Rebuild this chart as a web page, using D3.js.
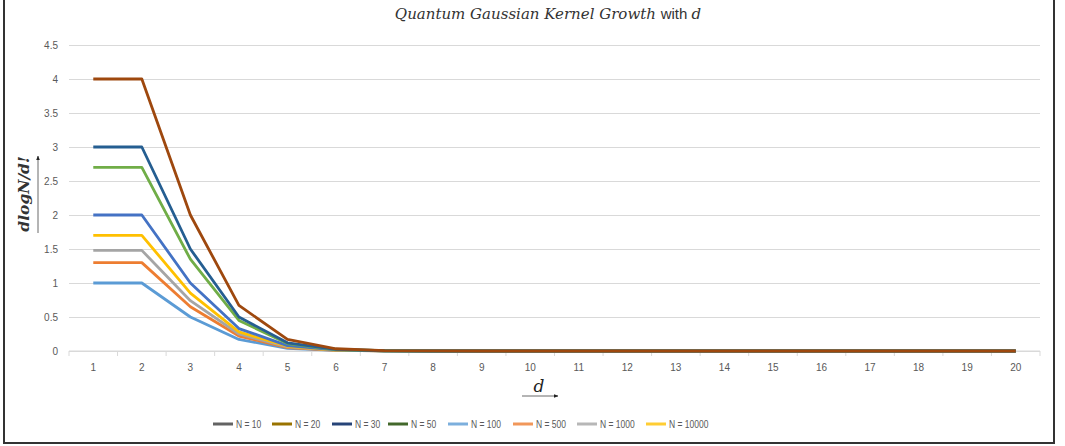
<!DOCTYPE html>
<html>
<head>
<meta charset="utf-8">
<script src="https://cdn.jsdelivr.net/npm/d3@7"></script>
<style>
  body { margin: 0; background: #fff; }
  svg { display: block; }
  .tick text { font-family: "Liberation Sans Narrow", "Arial Narrow", "Liberation Sans", sans-serif; font-size: 10px; fill: #595959; }
  .legend text { font-family: "Liberation Sans Narrow", "Arial Narrow", "Liberation Sans", sans-serif; font-size: 10px; fill: #595959; }
</style>
</head>
<body>
<svg width="1065" height="446"></svg>
<script>
      const dValues = [1, 2, 3, 4, 5, 6, 7, 8, 9, 10, 11, 12, 13, 14, 15, 16, 17, 18, 19, 20];
      const yTicks = [0, 0.5, 1, 1.5, 2, 2.5, 3, 3.5, 4, 4.5];
      const seriesNames = ['N = 10', 'N = 20', 'N = 30', 'N = 50', 'N = 100', 'N = 500', 'N = 1000', 'N = 10000'];

      const n10    = [1, 1, 0.5, 0.17, 0.04, 0.008, 0.001, 0, 0, 0, 0, 0, 0, 0, 0, 0, 0, 0, 0, 0];
      const n20    = [1.3, 1.3, 0.65, 0.22, 0.05, 0.011, 0.002, 0, 0, 0, 0, 0, 0, 0, 0, 0, 0, 0, 0, 0];
      const n30    = [1.48, 1.48, 0.74, 0.25, 0.06, 0.012, 0.002, 0, 0, 0, 0, 0, 0, 0, 0, 0, 0, 0, 0, 0];
      const n50    = [1.7, 1.7, 0.85, 0.28, 0.07, 0.014, 0.002, 0, 0, 0, 0, 0, 0, 0, 0, 0, 0, 0, 0, 0];
      const n100   = [2, 2, 1, 0.33, 0.08, 0.017, 0.003, 0, 0, 0, 0, 0, 0, 0, 0, 0, 0, 0, 0, 0];
      const n500   = [2.7, 2.7, 1.35, 0.45, 0.11, 0.022, 0.004, 0, 0, 0, 0, 0, 0, 0, 0, 0, 0, 0, 0, 0];
      const n1000  = [3, 3, 1.5, 0.5, 0.12, 0.025, 0.004, 0, 0, 0, 0, 0, 0, 0, 0, 0, 0, 0, 0, 0];
      const n10000 = [4, 4, 2, 0.67, 0.17, 0.033, 0.006, 0.001, 0, 0, 0, 0, 0, 0, 0, 0, 0, 0, 0, 0];
      const seriesValues = [n10, n20, n30, n50, n100, n500, n1000, n10000];

      // the line colours and the legend swatches don't agree in the original, keep both
      const lineColors = ['#5b9bd5', '#ed7d31', '#a5a5a5', '#ffc000', '#4472c4', '#70ad47', '#255e91', '#9e480e'];
      const legendColors = ['#636363', '#997300', '#264478', '#43682b', '#7cafdd', '#f1975a', '#b7b7b7', '#ffcd33'];

      const svg = d3.select('svg');

      // outer frame (left, right, bottom)
      svg.append('path')
        .attr('d', 'M4,0 V443 H1054 V0')
        .attr('fill', 'none')
        .attr('stroke', '#333')
        .attr('stroke-width', 2);

      const plotLeft = 69, plotRight = 1040, plotTop = 45, plotBottom = 351;

      const xScale = d3.scaleBand()
        .domain(dValues)
        .range([plotLeft, plotRight]);
      const yScale = d3.scaleLinear()
        .domain([0, 4.5])
        .range([plotBottom, plotTop]);

      // gridlines + y labels
      const yAxisG = svg.append('g')
        .attr('transform', `translate(${plotLeft},0)`)
        .call(d3.axisLeft(yScale)
          .tickValues(yTicks)
          .tickSize(-(plotRight - plotLeft))
          .tickPadding(11)
          .tickFormat(d3.format('')));
      yAxisG.select('.domain').remove();
      yAxisG.selectAll('.tick line')
        .attr('stroke', '#d9d9d9')
        .attr('stroke-width', 1);

      // x axis with ticks between categories
      const xAxisG = svg.append('g')
        .attr('transform', `translate(0,${plotBottom})`);
      xAxisG.append('line')
        .attr('x1', plotLeft).attr('x2', plotRight)
        .attr('stroke', '#d9d9d9');
      xAxisG.selectAll('.sep').data(dValues.concat(['end']))
        .enter().append('line')
          .attr('class', 'sep')
          .attr('x1', d => d === 'end' ? plotRight : xScale(d))
          .attr('x2', d => d === 'end' ? plotRight : xScale(d))
          .attr('y2', 5)
          .attr('stroke', '#d9d9d9');
      xAxisG.selectAll('.tick').data(dValues)
        .enter().append('g')
          .attr('class', 'tick')
          .attr('transform', d => `translate(${xScale(d) + xScale.bandwidth() / 2},0)`)
        .append('text')
          .attr('y', 20)
          .attr('text-anchor', 'middle')
          .text(d => d);

      // lines
      const line = d3.line()
        .x((v, i) => xScale(dValues[i]) + xScale.bandwidth() / 2)
        .y(v => yScale(v));

      svg.append('g').selectAll('path').data(seriesValues)
        .enter().append('path')
          .attr('d', line)
          .attr('fill', 'none')
          .attr('stroke', (d, i) => lineColors[i])
          .attr('stroke-width', 2.8)
          .attr('stroke-linejoin', 'round');

      // title
      const title = svg.append('text')
        .attr('x', 548)
        .attr('y', 19)
        .attr('text-anchor', 'middle')
        .style('fill', '#333');
      title.append('tspan')
        .style('font-family', '"DejaVu Serif", "Liberation Serif", serif')
        .style('font-style', 'italic')
        .style('font-size', '15px')
        .text('Quantum Gaussian Kernel Growth ');
      title.append('tspan')
        .style('font-family', '"Liberation Sans Narrow", "Liberation Sans", sans-serif')
        .style('font-size', '15px')
        .text('with ');
      title.append('tspan')
        .style('font-family', '"DejaVu Serif", "Liberation Serif", serif')
        .style('font-style', 'italic')
        .style('font-size', '15px')
        .text('d');

      // arrow marker
      svg.append('defs').append('marker')
        .attr('id', 'arrow')
        .attr('viewBox', '0 0 10 10')
        .attr('refX', 9).attr('refY', 5)
        .attr('markerWidth', 6).attr('markerHeight', 6)
        .attr('orient', 'auto')
        .append('path')
          .attr('d', 'M0,1 L10,5 L0,9 Z')
          .attr('fill', '#222');

      // y axis title
      svg.append('text')
        .attr('transform', 'translate(29,194) rotate(-90)')
        .attr('text-anchor', 'middle')
        .style('font-family', '"DejaVu Serif", "Liberation Serif", serif')
        .style('font-style', 'italic')
        .style('font-weight', 'bold')
        .style('font-size', '15.5px')
        .style('fill', '#333')
        .text('dlogN/d!');
      svg.append('line')
        .attr('x1', 38).attr('y1', 233)
        .attr('x2', 38).attr('y2', 156)
        .attr('stroke', '#444')
        .attr('stroke-width', 0.8)
        .attr('marker-end', 'url(#arrow)');

      // x axis title
      svg.append('text')
        .attr('x', 539)
        .attr('y', 392)
        .attr('text-anchor', 'middle')
        .style('font-family', '"DejaVu Serif", "Liberation Serif", serif')
        .style('font-style', 'italic')
        .style('font-size', '17px')
        .style('fill', '#222')
        .text('d');
      svg.append('line')
        .attr('x1', 522).attr('y1', 396)
        .attr('x2', 558).attr('y2', 396)
        .attr('stroke', '#444')
        .attr('stroke-width', 0.8)
        .attr('marker-end', 'url(#arrow)');

      // legend
      const swatchX = [213, 272, 332, 388, 448, 513, 577, 646];
      const legendG = svg.append('g').attr('class', 'legend');
      const items = legendG.selectAll('g').data(seriesNames)
        .enter().append('g')
          .attr('transform', (d, i) => `translate(${swatchX[i]},424)`);
      items.append('line')
        .attr('x1', 0).attr('x2', 20)
        .attr('stroke', (d, i) => legendColors[i])
        .attr('stroke-width', 3);
      items.append('text')
        .attr('transform', 'translate(23,3.5) scale(0.85,1)')
        .text(d => d);
</script>
</body>
</html>
